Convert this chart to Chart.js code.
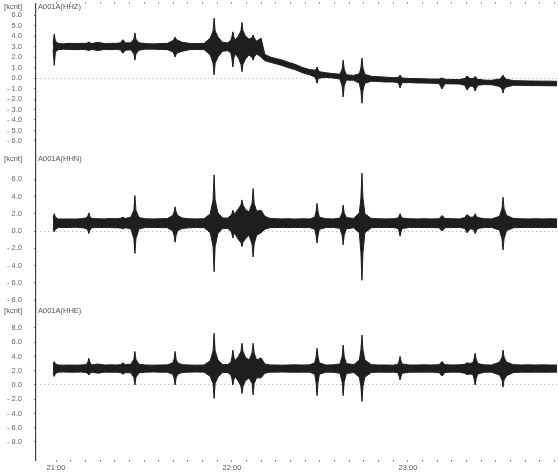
<!DOCTYPE html>
<html>
<head>
<meta charset="utf-8">
<script src="https://cdn.jsdelivr.net/npm/chart.js@4.4.1/dist/chart.umd.min.js"></script>
<style>
  html, body { margin: 0; padding: 0; background: #fff; }
  #wrap { position: relative; width: 558px; height: 473px; }
</style>
</head>
<body>
<div id="wrap"><canvas id="sismo"></canvas></div>
<script>
// Tempo em minutos depois das 21:00
const minutos = [
  -1.0, -0.6, -0.2, 0.8, 2.5, 4.5, 6.5, 8.5, 10.2, 10.85, 11.2, 11.55,
  12.2, 14.3, 16.5, 18.5, 20.5, 22.0, 22.8, 23.6, 25.5, 26.55, 26.9, 27.25,
  28.3, 30.5, 33.0, 35.5, 38.0, 39.8, 40.25, 40.6, 40.95, 41.5, 43.0, 45.5,
  48.0, 50.5, 52.6, 53.55, 53.9, 54.25, 55.2, 56.8, 58.5, 59.6, 59.95, 60.3, 60.65, 61.0,
  62.2, 63.05, 63.4, 63.75, 64.6, 65.8, 66.85, 67.2, 67.55, 68.4, 69.9, 71.2, 73.0, 75.0,
  77.0, 79.0, 81.5, 84.0, 86.5, 88.2, 88.65, 89.0, 89.35, 89.8, 92.0, 94.5,
  96.8, 97.55, 97.9, 98.25, 99.0, 101.5, 103.4, 103.95, 104.3, 104.65, 105.3, 107.5, 110.0, 112.5,
  115.0, 116.6, 116.95, 117.3, 117.65, 118.0, 120.5, 123.0, 125.5, 128.0, 130.6, 131.6,
  132.6, 135.0, 137.5, 139.4, 140.1, 141.2, 142.2, 142.55, 142.9, 143.25, 143.8, 146.0,
  148.5, 151.2, 152.05, 152.4, 152.75, 153.6, 156.0, 158.5, 161.0, 163.5, 166.0, 168.5,
  170.8
];

// Envelope do sinal (topo e base da faixa) em kcnt
const hhzTopo = [
  3.30, 4.20, 3.50, 3.30, 3.25, 3.30, 3.28, 3.30, 3.30, 3.35, 3.45, 3.35,
  3.28, 3.40, 3.28, 3.30, 3.30, 3.35, 3.65, 3.35, 3.35, 3.70, 4.30, 3.70,
  3.35, 3.28, 3.25, 3.28, 3.30, 3.55, 3.70, 3.90, 3.70, 3.60, 3.40, 3.30,
  3.28, 3.30, 3.80, 4.50, 5.70, 4.50, 3.90, 3.40, 3.35, 3.60, 3.90, 4.40, 3.90, 3.60,
  4.00, 4.50, 5.30, 4.50, 4.00, 3.70, 3.85, 4.10, 3.80, 3.50, 3.80, 2.25, 2.00, 1.85,
  1.72, 1.52, 1.30, 1.00, 0.80, 0.75, 0.85, 1.05, 0.80, 0.60, 0.50, 0.42,
  0.36, 0.85, 1.70, 0.85, 0.30, 0.25, 0.40, 0.95, 1.90, 0.95, 0.35, 0.16, 0.12, 0.08,
  0.03, 0.05, 0.15, 0.29, 0.12, 0.00, -0.04, -0.05, -0.08, -0.10, -0.10, 0.00,
  -0.12, -0.14, -0.15, -0.05, 0.19, -0.05, -0.05, 0.05, 0.15, 0.02, -0.12, -0.20,
  -0.22, -0.10, 0.10, 0.29, 0.08, -0.12, -0.25, -0.27, -0.28, -0.29, -0.30, -0.30,
  -0.32
];
const hhzBase = [
  2.70, 1.20, 2.50, 2.70, 2.75, 2.72, 2.70, 2.72, 2.70, 2.65, 2.60, 2.66,
  2.72, 2.62, 2.72, 2.70, 2.72, 2.68, 2.35, 2.65, 2.68, 2.30, 1.70, 2.30,
  2.65, 2.75, 2.75, 2.72, 2.70, 2.50, 2.25, 2.00, 2.25, 2.40, 2.55, 2.70,
  2.72, 2.70, 2.20, 1.40, 0.30, 1.40, 2.00, 2.55, 2.60, 2.40, 1.90, 1.05, 1.90, 2.30,
  1.90, 1.30, 0.60, 1.30, 1.80, 2.20, 1.95, 1.70, 2.00, 2.30, 2.00, 1.65, 1.50, 1.35,
  1.20, 1.00, 0.80, 0.50, 0.30, 0.10, -0.15, -0.50, -0.15, 0.00, 0.06, 0.00,
  -0.10, -0.75, -1.80, -0.75, -0.20, -0.22, -0.50, -1.20, -2.40, -1.20, -0.50, -0.30, -0.34, -0.38,
  -0.38, -0.45, -0.65, -0.95, -0.65, -0.45, -0.44, -0.47, -0.48, -0.50, -0.52, -1.05,
  -0.54, -0.56, -0.57, -0.70, -1.15, -0.75, -0.80, -1.00, -1.24, -0.95, -0.70, -0.62,
  -0.64, -0.80, -1.05, -1.43, -1.05, -0.85, -0.70, -0.70, -0.72, -0.72, -0.73, -0.74,
  -0.74
];

const hhnTopo = [
  1.50, 2.00, 1.60, 1.40, 1.38, 1.40, 1.38, 1.42, 1.50, 1.70, 2.10, 1.70,
  1.45, 1.42, 1.40, 1.45, 1.42, 1.48, 1.60, 1.45, 1.60, 2.40, 4.10, 2.40,
  1.55, 1.42, 1.40, 1.42, 1.45, 1.80, 2.20, 2.80, 2.20, 1.80, 1.50, 1.42,
  1.40, 1.42, 2.00, 3.60, 6.50, 3.60, 2.10, 1.50, 1.50, 1.80, 2.00, 2.40, 2.10, 2.00,
  2.60, 3.00, 3.60, 3.00, 2.50, 2.20, 3.20, 4.90, 3.20, 2.30, 2.40, 1.70, 1.45, 1.42,
  1.40, 1.42, 1.38, 1.42, 1.40, 1.60, 2.20, 3.20, 2.20, 1.60, 1.42, 1.40,
  1.50, 2.10, 3.00, 2.10, 1.55, 1.45, 2.10, 3.80, 6.70, 3.80, 2.00, 1.45, 1.42, 1.40,
  1.42, 1.50, 1.70, 2.00, 1.70, 1.50, 1.42, 1.40, 1.42, 1.40, 1.42, 1.80,
  1.45, 1.42, 1.40, 1.55, 1.90, 1.60, 1.60, 1.75, 2.00, 1.75, 1.55, 1.42,
  1.40, 1.70, 2.60, 3.90, 2.60, 1.80, 1.45, 1.42, 1.40, 1.42, 1.40, 1.42,
  1.40
];
const hhnBase = [
  0.30, -0.10, 0.20, 0.40, 0.42, 0.40, 0.44, 0.40, 0.30, 0.10, -0.30, 0.10,
  0.38, 0.40, 0.42, 0.40, 0.38, 0.35, 0.25, 0.38, 0.25, -0.90, -2.60, -0.90,
  0.25, 0.40, 0.42, 0.40, 0.38, 0.00, -0.50, -1.30, -0.50, 0.05, 0.30, 0.38,
  0.40, 0.38, -0.20, -1.80, -4.70, -1.80, -0.30, 0.30, 0.30, 0.00, -0.30, -0.80, -0.40, -0.30,
  -1.00, -1.35, -1.80, -1.30, -0.90, -0.50, -1.50, -3.00, -1.50, -0.50, -0.20, 0.20, 0.40, 0.40,
  0.42, 0.40, 0.42, 0.40, 0.40, 0.20, -0.50, -1.40, -0.50, 0.20, 0.40, 0.42,
  0.30, -0.50, -1.60, -0.50, 0.25, 0.38, -0.20, -2.50, -5.70, -2.50, -0.20, 0.38, 0.40, 0.42,
  0.40, 0.30, -0.05, -0.60, -0.05, 0.30, 0.40, 0.42, 0.40, 0.40, 0.38, 0.00,
  0.38, 0.40, 0.42, 0.30, -0.20, 0.25, 0.20, 0.00, -0.30, 0.00, 0.30, 0.40,
  0.42, 0.10, -0.90, -2.20, -0.90, 0.05, 0.38, 0.40, 0.42, 0.40, 0.40, 0.42,
  0.40
];

const hheTopo = [
  2.90, 3.30, 2.95, 2.80, 2.78, 2.80, 2.78, 2.80, 2.85, 3.20, 3.75, 3.20,
  2.80, 2.95, 2.80, 2.82, 2.80, 2.85, 3.10, 2.85, 2.90, 3.60, 4.70, 3.60,
  2.90, 2.80, 2.78, 2.80, 2.82, 3.10, 3.60, 4.70, 3.60, 3.10, 2.85, 2.80,
  2.78, 2.80, 3.40, 4.80, 7.25, 4.80, 3.50, 2.85, 2.85, 3.20, 3.80, 4.90, 3.90, 3.40,
  4.00, 4.70, 5.85, 4.70, 3.90, 3.50, 4.50, 5.85, 4.50, 3.50, 3.80, 2.95, 2.80, 2.80,
  2.78, 2.80, 2.82, 2.80, 2.82, 3.10, 3.90, 5.15, 3.90, 3.10, 2.80, 2.82,
  2.95, 4.00, 5.60, 4.00, 3.00, 2.85, 3.50, 4.90, 7.00, 4.90, 3.50, 2.85, 2.80, 2.80,
  2.78, 2.90, 3.35, 4.00, 3.35, 2.95, 2.80, 2.80, 2.82, 2.80, 2.85, 3.30,
  2.85, 2.80, 2.82, 2.90, 3.10, 3.00, 3.20, 3.70, 4.45, 3.60, 3.00, 2.82,
  2.80, 3.20, 3.90, 4.90, 3.90, 3.20, 2.85, 2.80, 2.82, 2.80, 2.82, 2.80,
  2.80
];
const hheBase = [
  1.70, 1.20, 1.60, 1.80, 1.82, 1.80, 1.80, 1.82, 1.75, 1.60, 1.40, 1.60,
  1.80, 1.65, 1.80, 1.78, 1.80, 1.75, 1.50, 1.75, 1.70, 1.05, 0.00, 1.05,
  1.70, 1.80, 1.82, 1.80, 1.78, 1.50, 1.00, 0.00, 1.00, 1.50, 1.75, 1.80,
  1.82, 1.80, 1.20, 0.20, -1.90, 0.20, 1.10, 1.75, 1.75, 1.40, 0.90, 0.00, 0.80, 1.20,
  0.50, -0.20, -1.20, -0.20, 0.60, 1.00, 0.20, -1.40, 0.20, 1.00, 1.00, 1.65, 1.80, 1.80,
  1.82, 1.80, 1.78, 1.80, 1.80, 1.50, 0.40, -1.50, 0.40, 1.50, 1.80, 1.78,
  1.65, 0.40, -1.50, 0.40, 1.60, 1.75, 1.10, -0.20, -2.30, -0.20, 1.10, 1.75, 1.80, 1.78,
  1.80, 1.70, 1.25, 0.70, 1.25, 1.65, 1.78, 1.80, 1.80, 1.80, 1.75, 1.25,
  1.75, 1.80, 1.78, 1.65, 1.45, 1.55, 1.40, 0.85, 0.00, 0.90, 1.55, 1.78,
  1.80, 1.40, 0.70, -0.30, 0.70, 1.30, 1.75, 1.80, 1.78, 1.80, 1.78, 1.80,
  1.80
];

// Rótulos e marcas dos eixos
const nomesCanais = ['A001A(HHZ)', 'A001A(HHN)', 'A001A(HHE)'];
const unidade = '[kcnt]';
const ticksHHZ = [6, 5, 4, 3, 2, 1, 0, -1, -2, -3, -4, -5, -6];
const ticksHHN = [6, 4, 2, 0, -2, -4, -6, -8];
const ticksHHE = [8, 6, 4, 2, 0, -2, -4, -6, -8];
const horasMinuto = [0, 60, 120];
const horasRotulo = ['21:00', '22:00', '23:00'];
const marcasMinuto = [];
for (let m = 0; m <= 170; m += 5) marcasMinuto.push(m);

const fonte = '"Liberation Sans", Arial, sans-serif';
Chart.defaults.font.family = fonte;

function pontos(valores) {
  return minutos.map((t, i) => ({ x: t, y: valores[i] }));
}

function formataKcnt(v) {
  return v < 0 ? '- ' + Math.abs(v).toFixed(1) : v.toFixed(1);
}

// Eixo y de cada canal, empilhados no mesmo lado
function eixoY(min, max, ticks) {
  return {
    type: 'linear',
    position: 'left',
    stack: 'sismo',
    stackWeight: 1,
    min: min,
    max: max,
    afterBuildTicks: s => { s.ticks = ticks.map(v => ({ value: v })); },
    afterFit: s => {
      s.width = 36;
      s.paddingTop = 0;
      s.paddingBottom = 0;
    },
    ticks: {
      autoSkip: false,
      font: { size: 7.5 },
      color: '#666',
      padding: 12,
      callback: v => formataKcnt(v)
    },
    grid: {
      color: c => (c.tick && c.tick.value === 0) ? '#aaa' : 'rgba(0,0,0,0)',
      tickColor: '#777',
      tickLength: 2,
      lineWidth: 1
    },
    border: { display: true, color: '#444', width: 1.2, dash: [1, 3] }
  };
}

function faixa(topo, base, eixo) {
  const cor = '#1e1e1e';
  return [
    { data: pontos(topo), yAxisID: eixo, fill: '+1', borderColor: cor, backgroundColor: cor,
      borderWidth: 1, pointRadius: 0, tension: 0 },
    { data: pontos(base), yAxisID: eixo, fill: false, borderColor: cor,
      borderWidth: 1, pointRadius: 0, tension: 0 }
  ];
}

// Textos do canal e da unidade no topo de cada painel
const rotulosPainel = {
  id: 'rotulosPainel',
  afterDraw(chart) {
    const ctx = chart.ctx;
    ctx.save();
    ctx.font = '7.5px ' + fonte;
    ctx.fillStyle = '#555';
    ctx.textBaseline = 'middle';
    ['yHHZ', 'yHHN', 'yHHE'].forEach((id, i) => {
      const s = chart.scales[id];
      ctx.textAlign = 'right';
      ctx.fillText(unidade, 22, s.top + 2.5);
      ctx.textAlign = 'left';
      ctx.fillText(nomesCanais[i], chart.chartArea.left + 2, s.top + 3);
    });
    ctx.restore();
  }
};

const grafico = new Chart(document.getElementById('sismo'), {
  type: 'line',
  data: {
    datasets: [
      ...faixa(hhzTopo, hhzBase, 'yHHZ'),
      ...faixa(hhnTopo, hhnBase, 'yHHN'),
      ...faixa(hheTopo, hheBase, 'yHHE')
    ]
  },
  options: {
    responsive: true,
    maintainAspectRatio: false,
    animation: false,
    devicePixelRatio: 1,
    layout: { padding: { top: 2, right: 1, bottom: 0, left: 0 } },
    plugins: { legend: { display: false }, tooltip: { enabled: false } },
    scales: {
      x: {
        type: 'linear',
        position: 'bottom',
        min: -6.82,
        max: 170.8,
        afterBuildTicks: s => { s.ticks = marcasMinuto.map(v => ({ value: v })); },
        afterFit: s => { s.height = 13; },
        ticks: {
          autoSkip: false,
          maxRotation: 0,
          padding: 1,
          font: { size: 7.5 },
          color: '#555',
          callback: v => {
            const i = horasMinuto.indexOf(v);
            return i >= 0 ? horasRotulo[i] : '';
          }
        },
        grid: { drawOnChartArea: false, tickLength: 2, tickColor: '#888' },
        border: { display: false }
      },
      xTopo: {
        type: 'linear',
        position: 'top',
        min: -6.82,
        max: 170.8,
        afterBuildTicks: s => { s.ticks = marcasMinuto.map(v => ({ value: v })); },
        afterFit: s => { s.height = 2; },
        ticks: { display: false },
        grid: { drawOnChartArea: false, tickLength: 2, tickColor: '#999' },
        border: { display: false }
      },
      yHHE: eixoY(-10.53, 10.8, ticksHHE),
      yHHN: eixoY(-8.91, 8.68, ticksHHN),
      yHHZ: eixoY(-7.43, 7.05, ticksHHZ)
    }
  },
  plugins: [rotulosPainel]
});
</script>
</body>
</html>
